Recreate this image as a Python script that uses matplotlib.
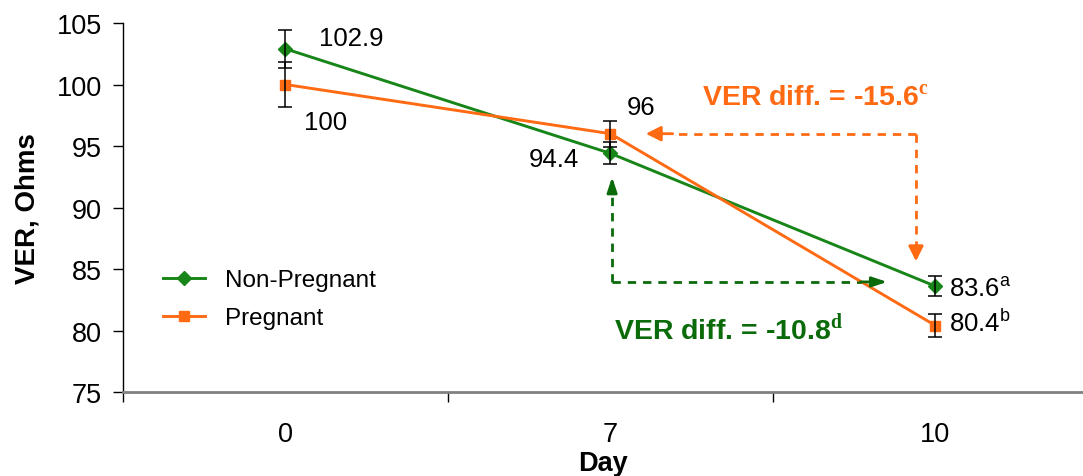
import numpy as np
import matplotlib
matplotlib.use("Agg")
import matplotlib.pyplot as plt

plt.rcParams['font.family'] = ['Liberation Sans', 'DejaVu Sans']
plt.rcParams['mathtext.fontset'] = 'custom'
plt.rcParams['mathtext.sf'] = 'Liberation Sans'
plt.rcParams['mathtext.bf'] = 'Liberation Serif:bold'

# days on the x axis (categorical)
days = ["0", "7", "10"]

# mean VER per group, with standard errors
non_preg = [102.9, 94.4, 83.6]
non_preg_se = [1.55, 0.9, 0.8]
preg = [100.0, 96.0, 80.4]
preg_se = [1.8, 1.05, 0.95]

# superscript letters on the day 10 labels
day10_sup = ["a", "b"]

# differences day 0 -> day 10
diff_preg = -15.6
diff_non_preg = -10.8

GREEN = "#178517"
GREEN_TXT = "#0b6b0b"
ORANGE = "#ff6a13"

fig = plt.figure(figsize=(10.83, 4.77), dpi=100)
ax = fig.add_axes([123 / 1083, 84 / 477, 960 / 1083, 369 / 477])

x = np.arange(len(days))

ax.plot(x, non_preg, color=GREEN, lw=2.1, marker="D", ms=7.5, label="Non-Pregnant", zorder=3)
ax.plot(x, preg, color=ORANGE, lw=2.1, marker="s", ms=7, label="Pregnant", zorder=3)
ax.errorbar(x, non_preg, yerr=non_preg_se, fmt="none", ecolor="black", elinewidth=1.1,
            capsize=5, capthick=1.1, zorder=4)
ax.errorbar(x, preg, yerr=preg_se, fmt="none", ecolor="black", elinewidth=1.1,
            capsize=5, capthick=1.1, zorder=4)

# value labels
fs = 18.5
ax.annotate("%.1f" % non_preg[0], (x[0], non_preg[0]), xytext=(34, 11), textcoords="offset pixels",
            fontsize=fs, va="center", ha="left")
ax.annotate("%g" % preg[0], (x[0], preg[0]), xytext=(19, -37), textcoords="offset pixels",
            fontsize=fs, va="center", ha="left")
ax.annotate("%g" % preg[1], (x[1], preg[1]), xytext=(16, 27), textcoords="offset pixels",
            fontsize=fs, va="center", ha="left")
ax.annotate("%.1f" % non_preg[1], (x[1], non_preg[1]), xytext=(-31, -6), textcoords="offset pixels",
            fontsize=fs, va="center", ha="right")
ax.annotate("%.1f$^{\\mathsf{%s}}$" % (non_preg[2], day10_sup[0]), (x[2], non_preg[2]), xytext=(14, -2),
            textcoords="offset pixels", fontsize=fs, va="center", ha="left")
ax.annotate("%.1f$^{\\mathsf{%s}}$" % (preg[2], day10_sup[1]), (x[2], preg[2]), xytext=(14, 3),
            textcoords="offset pixels", fontsize=fs, va="center", ha="left")

# dashed arrows showing the drop for each group
dash = dict(lw=2.0, ls=(0, (3, 2.5)))
ax.plot([1.94, 1.94], [preg[1], 86.6], color=ORANGE, **dash)
ax.plot([1.94, 1.20], [preg[1], preg[1]], color=ORANGE, **dash)
ax.annotate("", xy=(1.94, 85.4), xytext=(1.94, 86.8),
            arrowprops=dict(arrowstyle="-|>,head_length=0.9,head_width=0.45", color=ORANGE, lw=2))
ax.annotate("", xy=(1.10, preg[1]), xytext=(1.20, preg[1]),
            arrowprops=dict(arrowstyle="-|>,head_length=0.9,head_width=0.45", color=ORANGE, lw=2))

ax.plot([1.005, 1.005], [83.95, 91.5], color=GREEN_TXT, **dash)
ax.plot([1.005, 1.78], [83.95, 83.95], color=GREEN_TXT, **dash)
ax.annotate("", xy=(1.005, 92.7), xytext=(1.005, 91.3),
            arrowprops=dict(arrowstyle="-|>,head_length=0.9,head_width=0.3", color=GREEN_TXT, lw=2))
ax.annotate("", xy=(1.86, 83.95), xytext=(1.76, 83.95),
            arrowprops=dict(arrowstyle="-|>,head_length=0.9,head_width=0.3", color=GREEN_TXT, lw=2))

ax.text(1.283, 98.9, "VER diff. = %.1f$^{\\mathbf{c}}$" % diff_preg, color=ORANGE,
        fontsize=20.5, fontweight="bold", va="center", ha="left")
ax.text(1.01, 80.2, "VER diff. = %.1f$^{\\mathbf{d}}$" % diff_non_preg, color=GREEN_TXT,
        fontsize=20.5, fontweight="bold", va="center", ha="left")

# axes styling
ax.set_yticks(np.arange(75, 106, 5))
ax.set_xticks(x)
ax.set_xticklabels(days)
ax.set_xticks([-0.5, 0.5, 1.5, 2.5], minor=True)
ax.set_xlim(-0.5, 2.454)
ax.set_ylim(75, 105)
ax.tick_params(axis="x", which="major", length=0, pad=21, labelsize=19.5)
ax.tick_params(axis="x", which="minor", length=7, width=1, color="black")
ax.tick_params(axis="y", length=7, width=1, pad=8, labelsize=19.5)

ax.spines["top"].set_visible(False)
ax.spines["right"].set_visible(False)
ax.spines["left"].set_linewidth(1.0)
ax.spines["bottom"].set_color("#808080")
ax.spines["bottom"].set_linewidth(2.0)

ax.set_xlabel("Day", fontsize=19.5, fontweight="bold", labelpad=2)
ax.set_ylabel("VER, Ohms", fontsize=20, fontweight="bold", labelpad=12)

ax.legend(loc="center left", bbox_to_anchor=(0.0185, 0.251), frameon=False, fontsize=17.5,
          handlelength=1.75, handletextpad=0.8, labelspacing=0.65)

fig.savefig("out.png", dpi=100)
